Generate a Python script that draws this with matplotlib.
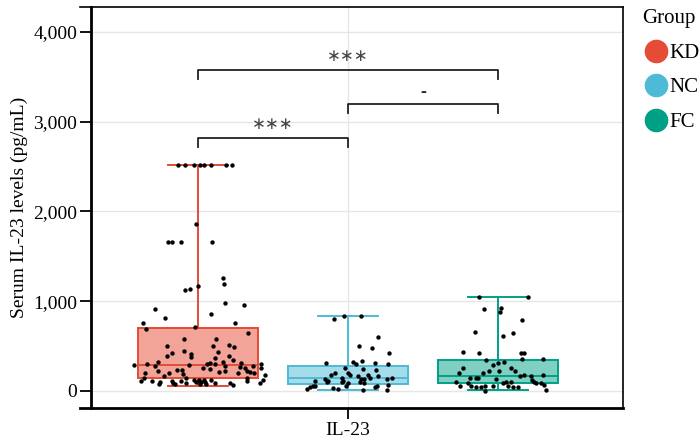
import matplotlib
matplotlib.use('Agg')
import matplotlib.pyplot as plt
from matplotlib.lines import Line2D
import numpy as np

plt.rcParams['font.family'] = ['Liberation Serif', 'DejaVu Serif']

groups = ['KD', 'NC', 'FC']
line_colors = ['#E64B35', '#4DBBD5', '#00A087']
category = 'IL-23'

# box stats: whislo, q1, median, q3, whishi
box_lo = [55, 8, 10]
box_q1 = [145, 75, 90]
box_med = [290, 140, 170]
box_q3 = [700, 280, 345]
box_hi = [2520, 830, 1045]

# jittered points: horizontal offset inside the dodge slot, value
kd_off = [-0.133, -0.089, -0.029, 0.011, 0.04, 0.089, 0.185, 0.225, -0.015,
          -0.198, -0.176, -0.113, 0.093, 0.167, 0.173, -0.002, -0.055, -0.084,
          0.182, 0.309, -0.289, -0.218, 0.085, -0.367, 0.249, -0.345, -0.018,
          0.333, -0.095, 0.122, -0.209, -0.176, -0.209, -0.091, -0.047, -0.045,
          0.1, 0.133, 0.111, 0.207, 0.238, 0.205, 0.233, -0.427, -0.34, -0.269,
          -0.289, -0.356, -0.267, -0.191, -0.229, -0.142, -0.105, -0.06, -0.1,
          0.033, 0.062, 0.078, 0.078, 0.111, 0.167, 0.178, 0.178, 0.138, 0.285,
          0.278, 0.315, 0.367, 0.327, 0.267, 0.345, 0.373, 0.422, 0.422, 0.445,
          -0.382, -0.36, -0.307, -0.256, -0.26, -0.173, -0.167, -0.156, -0.115,
          -0.078, -0.078, -0.027, -0.011, 0.007, 0.022, 0.04, 0.049, 0.085,
          0.011, 0.055, 0.115, 0.211, 0.233, 0.329, 0.329, 0.411, 0.433]
kd_val = [2517, 2517, 2517, 2517, 2517, 2517, 2517, 2517, 1860,
          1656, 1656, 1656, 1656, 1262, 1192, 1169, 1139, 1125,
          977, 961, 910, 809, 854, 761, 754, 690, 709,
          649, 582, 575, 505, 419, 393, 449, 408, 382,
          505, 431, 364, 512, 490, 390, 345, 290, 297, 326,
          282, 197, 226, 197, 170, 234, 234, 290, 186,
          253, 297, 308, 245, 301, 320, 282, 223, 215, 315,
          264, 260, 278, 223, 197, 215, 197, 297, 253, 178,
          111, 141, 111, 104, 75, 115, 86, 78, 115,
          141, 86, 122, 104, 122, 97, 122, 104, 122,
          75, 75, 86, 86, 67, 148, 111, 86, 122]

nc_off = [-0.027, 0.085, -0.093, 0.198, 0.073, 0.162, 0.275, -0.149, 0.036,
          0.053, 0.093, 0.18, 0.269, -0.02, 0.102, 0.187, -0.087, -0.113,
          0.002, 0.013, 0.064, 0.136, 0.198, -0.153, -0.131, -0.042, -0.031,
          -0.042, 0.087, 0.109, 0.147, 0.109, 0.08, 0.262, 0.291, 0.264, 0.262,
          -0.22, -0.236, -0.253, -0.271, -0.22, -0.142, -0.102, -0.064, -0.016,
          0.002, 0.098, 0.18, 0.191]
nc_val = [835, 835, 798, 605, 505, 475, 427, 315, 326,
          297, 334, 308, 297, 253, 242, 234, 204, 178,
          197, 178, 167, 178, 167, 134, 115, 141, 115,
          97, 134, 134, 141, 93, 97, 130, 141, 67, 11,
          111, 56, 41, 19, 56, 97, 37, 19, 56,
          86, 11, 41, 56]

fc_off = [-0.129, 0.2, -0.093, 0.018, 0.011, 0.162, -0.151, 0.033, 0.102,
          -0.231, -0.127, 0.155, 0.173, -0.082, 0.16, 0.3, 0.0, 0.04, -0.033,
          -0.233, -0.262, 0.089, 0.116, -0.058, 0.009, -0.098, -0.131, -0.189,
          -0.15, -0.278, -0.2, -0.256, -0.182, -0.145, -0.111, -0.084, -0.089,
          -0.033, -0.011, 0.033, 0.055, 0.089, 0.067, 0.1, 0.133, 0.145, 0.173,
          0.218, 0.229, 0.24, 0.256, 0.3, 0.289, 0.304, 0.322]
fc_val = [1050, 1050, 910, 928, 883, 791, 653, 612, 642,
          431, 419, 427, 427, 345, 353, 353, 308, 320, 290,
          253, 197, 260, 223, 223, 223, 197, 148, 141,
          141, 104, 93, 56, 56, 48, 48, 56, 4,
          56, 130, 93, 104, 104, 56, 48, 48, 167, 178,
          171, 122, 104, 86, 178, 93, 67, 11]

# significance brackets: (left group, right group, label)
comparisons = [(0, 2, '∗∗∗'), (1, 2, '-'), (0, 1, '∗∗∗')]
bracket_y = [3575, 3193, 2814]

yticks = [0, 1000, 2000, 3000, 4000]

fig = plt.figure(figsize=(7, 4.4), dpi=100)
ax = fig.add_axes([0.13, 0.0727, 0.76, 0.9113])

positions = [-1, 0, 1]
stats = []
for i, g in enumerate(groups):
    stats.append(dict(label=g, whislo=box_lo[i], q1=box_q1[i], med=box_med[i],
                      q3=box_q3[i], whishi=box_hi[i], fliers=[]))

for i in range(3):
    c = line_colors[i]
    ax.bxp([stats[i]], positions=[positions[i]], widths=0.8, patch_artist=True,
           showfliers=False, capwidths=0.4, manage_ticks=False,
           boxprops=dict(facecolor=matplotlib.colors.to_rgba(c, 0.5), edgecolor=c, linewidth=1.4),
           whiskerprops=dict(color=c, linewidth=1.4),
           capprops=dict(color=c, linewidth=1.4),
           medianprops=dict(color=c, linewidth=1.4), zorder=2)

for i, (off, val) in enumerate([(kd_off, kd_val), (nc_off, nc_val), (fc_off, fc_val)]):
    ax.scatter(np.array(off) + positions[i], val, s=10, color='black', zorder=3, linewidths=0)

for (a, b, lab), y in zip(comparisons, bracket_y):
    xa, xb = positions[a], positions[b]
    ax.plot([xa, xa, xb, xb], [y - 95, y, y, y - 95], color='#222222', lw=1.3, zorder=4)
    if lab == '-':
        ax.text((xa + xb) / 2, y + 40, lab, ha='center', va='bottom', fontsize=13,
                color='#222222', fontweight='bold')
    else:
        ax.text((xa + xb) / 2, y + 60, lab, ha='center', va='bottom', fontsize=12,
                color='#444444', family=['DejaVu Sans'])

ax.set_xlim(-1.713, 1.833)
ax.set_ylim(-190, 4276)
ax.set_yticks(yticks)
ax.set_yticklabels([f'{v:,}' for v in yticks], fontsize=14)
ax.set_xticks([0])
ax.set_xticklabels([category], fontsize=14)
ax.set_ylabel('Serum IL-23 levels (pg/mL)', fontsize=14, labelpad=4)

ax.grid(True, color='#e6e6e6', lw=1.0, zorder=0)
ax.set_axisbelow(True)
ax.tick_params(axis='both', length=8, width=1.3, color='black', pad=2)

for side in ['top', 'right']:
    ax.spines[side].set_linewidth(1.2)
ax.spines['left'].set_linewidth(2.0)
ax.spines['bottom'].set_linewidth(2.0)

# axis lines reach a bit past the panel corners, as in the source
ext = 11 / (0.76 * 700)
ax.add_line(Line2D([-ext, 0], [1, 1], transform=ax.transAxes, color='black', lw=1.2, clip_on=False))
ax.add_line(Line2D([-ext, 0], [0, 0], transform=ax.transAxes, color='black', lw=2.0, clip_on=False))

handles = [Line2D([0], [0], marker='o', linestyle='', markersize=16,
                  markerfacecolor=c, markeredgecolor=c) for c in line_colors]
leg = fig.legend(handles, groups, title='Group', loc='upper left',
                 bbox_to_anchor=(0.897, 1.012), frameon=False, fontsize=15,
                 title_fontsize=15, handletextpad=0.0, labelspacing=0.72,
                 borderaxespad=0.3, handlelength=1.3)
leg._legend_box.align = 'left'

fig.savefig('out.png', dpi=100)
